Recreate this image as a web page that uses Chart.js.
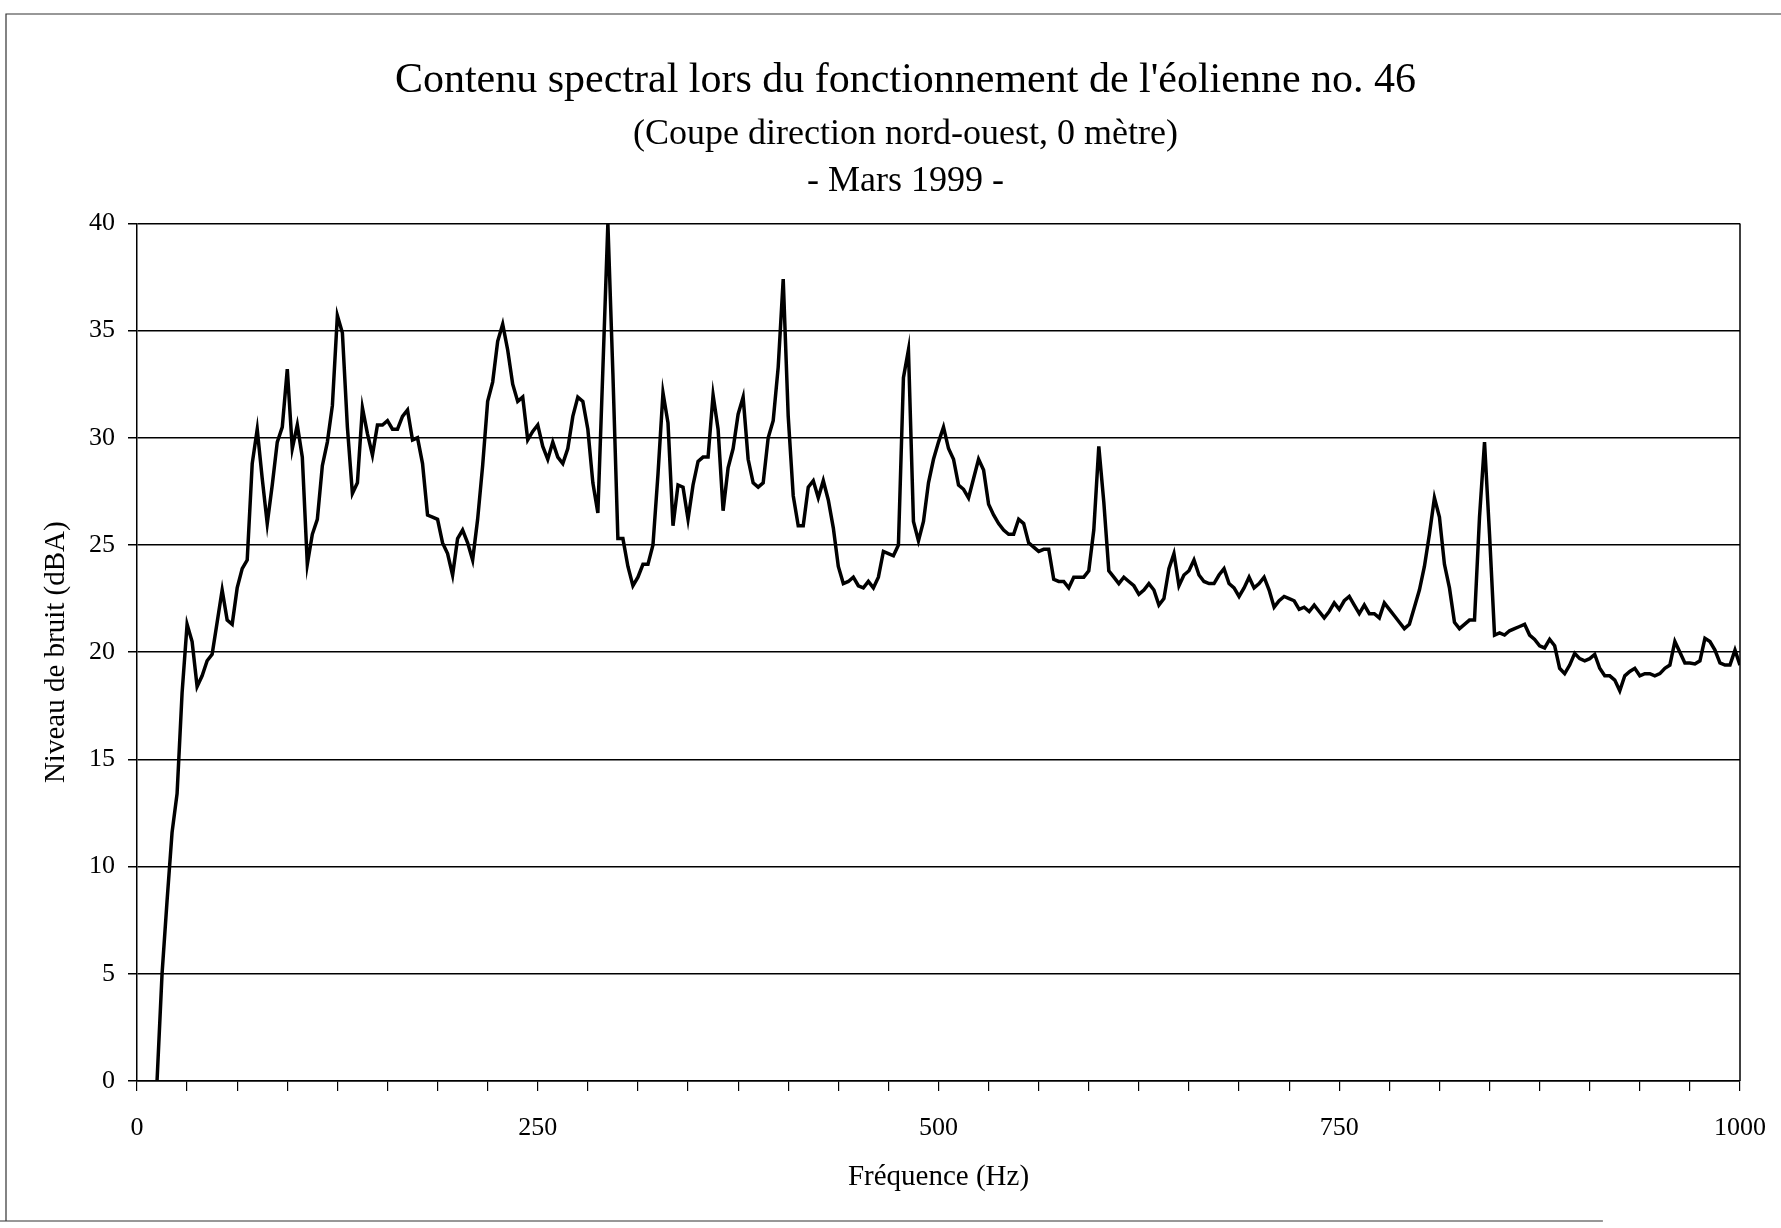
<!DOCTYPE html>
<html>
<head>
<meta charset="utf-8">
<title>Contenu spectral - éolienne no. 46</title>
<script src="https://cdn.jsdelivr.net/npm/chart.js@4.4.0/dist/chart.umd.min.js"></script>
<style>
  html, body { margin: 0; padding: 0; background: #fff; }
  canvas { display: block; }
</style>
</head>
<body>
<canvas id="mycanvas" width="1781" height="1228"></canvas>
<script>
// spectre FFT, pas de 3.125 Hz, premier point = raie no. 4 (12.5 Hz)
var BIN_HZ = 3.125;
var FIRST_BIN = 4;
var levels = [
  0, 5.0, 8.4, 11.6, 13.4, 18.1, 21.3, 20.5, 18.4, 18.9,
  19.6, 19.9, 21.4, 22.9, 21.5, 21.3, 23.0, 23.9, 24.3, 28.8,
  30.4, 28.1, 26.0, 27.8, 29.8, 30.5, 33.2, 29.5, 30.6, 29.1,
  24.1, 25.5, 26.2, 28.7, 29.8, 31.5, 35.7, 34.9, 30.5, 27.4,
  27.9, 31.4, 30.2, 29.2, 30.6, 30.6, 30.8, 30.4, 30.4, 31.0,
  31.3, 29.9, 30.0, 28.8, 26.4, 26.3, 26.2, 25.1, 24.6, 23.6,
  25.3, 25.7, 25.1, 24.3, 26.2, 28.7, 31.7, 32.6, 34.5, 35.3,
  34.1, 32.5, 31.7, 31.9, 29.9, 30.3, 30.6, 29.6, 29.0, 29.8,
  29.1, 28.8, 29.5, 31.0, 31.9, 31.7, 30.4, 27.9, 26.5, 33.2,
  40.0, 33.0, 25.3, 25.3, 24.0, 23.1, 23.5, 24.1, 24.1, 25.0,
  28.3, 32.1, 30.7, 25.9, 27.8, 27.7, 26.2, 27.8, 28.9, 29.1,
  29.1, 32.0, 30.4, 26.6, 28.6, 29.5, 31.1, 31.9, 29.0, 27.9,
  27.7, 27.9, 30.0, 30.8, 33.3, 37.4, 31.0, 27.3, 25.9, 25.9,
  27.7, 28.0, 27.2, 28.0, 27.1, 25.8, 24.0, 23.2, 23.3, 23.5,
  23.1, 23.0, 23.3, 23.0, 23.5, 24.7, 24.6, 24.5, 25.0, 32.8,
  34.1, 26.1, 25.2, 26.1, 27.9, 29.0, 29.8, 30.5, 29.5, 29.0,
  27.8, 27.6, 27.2, 28.1, 29.0, 28.5, 26.9, 26.4, 26.0, 25.7,
  25.5, 25.5, 26.2, 26.0, 25.1, 24.9, 24.7, 24.8, 24.8, 23.4,
  23.3, 23.3, 23.0, 23.5, 23.5, 23.5, 23.8, 25.7, 29.6, 27.0,
  23.8, 23.5, 23.2, 23.5, 23.3, 23.1, 22.7, 22.9, 23.2, 22.9,
  22.2, 22.5, 23.9, 24.6, 23.1, 23.6, 23.8, 24.3, 23.6, 23.3,
  23.2, 23.2, 23.6, 23.9, 23.2, 23.0, 22.6, 23.0, 23.5, 23.0,
  23.2, 23.5, 22.9, 22.1, 22.4, 22.6, 22.5, 22.4, 22.0, 22.1,
  21.9, 22.2, 21.9, 21.6, 21.9, 22.3, 22.0, 22.4, 22.6, 22.2,
  21.8, 22.2, 21.8, 21.8, 21.6, 22.3, 22.0, 21.7, 21.4, 21.1,
  21.3, 22.1, 22.9, 24.0, 25.5, 27.2, 26.3, 24.1, 23.0, 21.4,
  21.1, 21.3, 21.5, 21.5, 26.3, 29.8, 25.5, 20.8, 20.9, 20.8,
  21.0, 21.1, 21.2, 21.3, 20.8, 20.6, 20.3, 20.2, 20.6, 20.3,
  19.25, 19.0, 19.4, 19.95, 19.7, 19.6, 19.7, 19.9, 19.25, 18.9,
  18.9, 18.7, 18.2, 18.9, 19.1, 19.25, 18.9, 19.0, 19.0, 18.9,
  19.0, 19.25, 19.4, 20.5, 20.0, 19.5, 19.5, 19.45, 19.6, 20.65,
  20.5, 20.1, 19.5, 19.4, 19.4, 20.1, 19.4
];
var xTickLabels = [0, 250, 500, 750, 1000];
var yTicks = [0, 5, 10, 15, 20, 25, 30, 35, 40];

var titleText = "Contenu spectral lors du fonctionnement de l'éolienne no. 46";
var subtitleText = ["(Coupe direction nord-ouest, 0 mètre)", "- Mars 1999 -"];
var xTitle = "Fréquence (Hz)";
var yTitle = "Niveau de bruit (dBA)";

var FONT = "'Liberation Serif', 'DejaVu Serif', serif";

var points = [];
for (var i in levels) {
  points.push({x: (FIRST_BIN + Number(i)) * BIN_HZ, y: levels[i]});
}

// cadre de la page + bord droit de la zone de tracé
var framePlugin = {
  id: 'frame',
  afterDraw: function(chart) {
    var ctx = chart.ctx;
    var a = chart.chartArea;
    ctx.save();
    ctx.strokeStyle = '#000';
    ctx.lineWidth = 1.5;
    ctx.beginPath();
    ctx.moveTo(a.right, a.top);
    ctx.lineTo(a.right, a.bottom);
    ctx.stroke();
    ctx.strokeStyle = '#333';
    ctx.lineWidth = 1.2;
    ctx.beginPath();
    ctx.moveTo(6, chart.height - 7);
    ctx.lineTo(6, 14);
    ctx.lineTo(chart.width, 14);
    ctx.moveTo(0, chart.height - 7);
    ctx.lineTo(chart.width * 0.9, chart.height - 7);
    ctx.stroke();
    ctx.restore();
  }
};

var ctx = document.getElementById('mycanvas');
var lineGraph = new Chart(ctx, {
  type: 'line',
  data: {
    datasets: [{
      label: 'Niveau de bruit',
      data: points,
      borderColor: '#000',
      borderWidth: 3.5,
      pointRadius: 0,
      tension: 0,
      fill: false
    }]
  },
  options: {
    responsive: false,
    animation: false,
    layout: { padding: { top: 0, left: 30, right: 0, bottom: 20 } },
    plugins: {
      legend: { display: false },
      tooltip: { enabled: false },
      title: {
        display: true,
        text: titleText,
        color: '#000',
        font: { family: FONT, size: 42, weight: 'normal' },
        padding: { top: 56, bottom: 0 }
      },
      subtitle: {
        display: true,
        text: subtitleText,
        color: '#000',
        font: { family: FONT, size: 36, weight: 'normal', lineHeight: 1.306 },
        padding: { top: 5, bottom: 18 }
      }
    },
    scales: {
      x: {
        type: 'linear',
        min: 0,
        max: 1000,
        afterFit: function(scale) {
          scale.height = 127;
          scale.paddingRight = 26;   // le libellé 1000 déborde à droite
        },
        ticks: {
          stepSize: 31.25,
          maxTicksLimit: 40,
          autoSkip: false,
          maxRotation: 0,
          padding: 22,
          color: '#000',
          font: { family: FONT, size: 26 },
          callback: function(value) {
            return xTickLabels.indexOf(value) >= 0 ? String(value) : '';
          }
        },
        grid: {
          drawOnChartArea: false,
          drawTicks: true,
          tickLength: 10,
          color: '#000',
          lineWidth: 1.2
        },
        border: { display: true, color: '#000', width: 1.5 },
        title: {
          display: true,
          text: xTitle,
          color: '#000',
          font: { family: FONT, size: 29 },
          padding: { top: 0, bottom: 13 }
        }
      },
      y: {
        min: 0,
        max: 40,
        afterFit: function(scale) { scale.width = 107; },
        afterBuildTicks: function(scale) {
          scale.ticks = yTicks.map(function(v) { return {value: v}; });
        },
        ticks: {
          padding: 13,
          color: '#000',
          font: { family: FONT, size: 26 }
        },
        grid: {
          color: '#000',
          lineWidth: 1.5,
          tickLength: 9
        },
        border: { display: true, color: '#000', width: 1.5 },
        title: {
          display: true,
          text: yTitle,
          color: '#000',
          font: { family: FONT, size: 29 },
          padding: { top: 9, bottom: 0 }
        }
      },
      // marge droite réservée (sans graduation)
      yRight: {
        position: 'right',
        display: true,
        afterFit: function(scale) { scale.width = 41; },
        grid: { display: false, drawTicks: false },
        ticks: { display: false },
        border: { display: false }
      }
    }
  },
  plugins: [framePlugin]
});
</script>
</body>
</html>
